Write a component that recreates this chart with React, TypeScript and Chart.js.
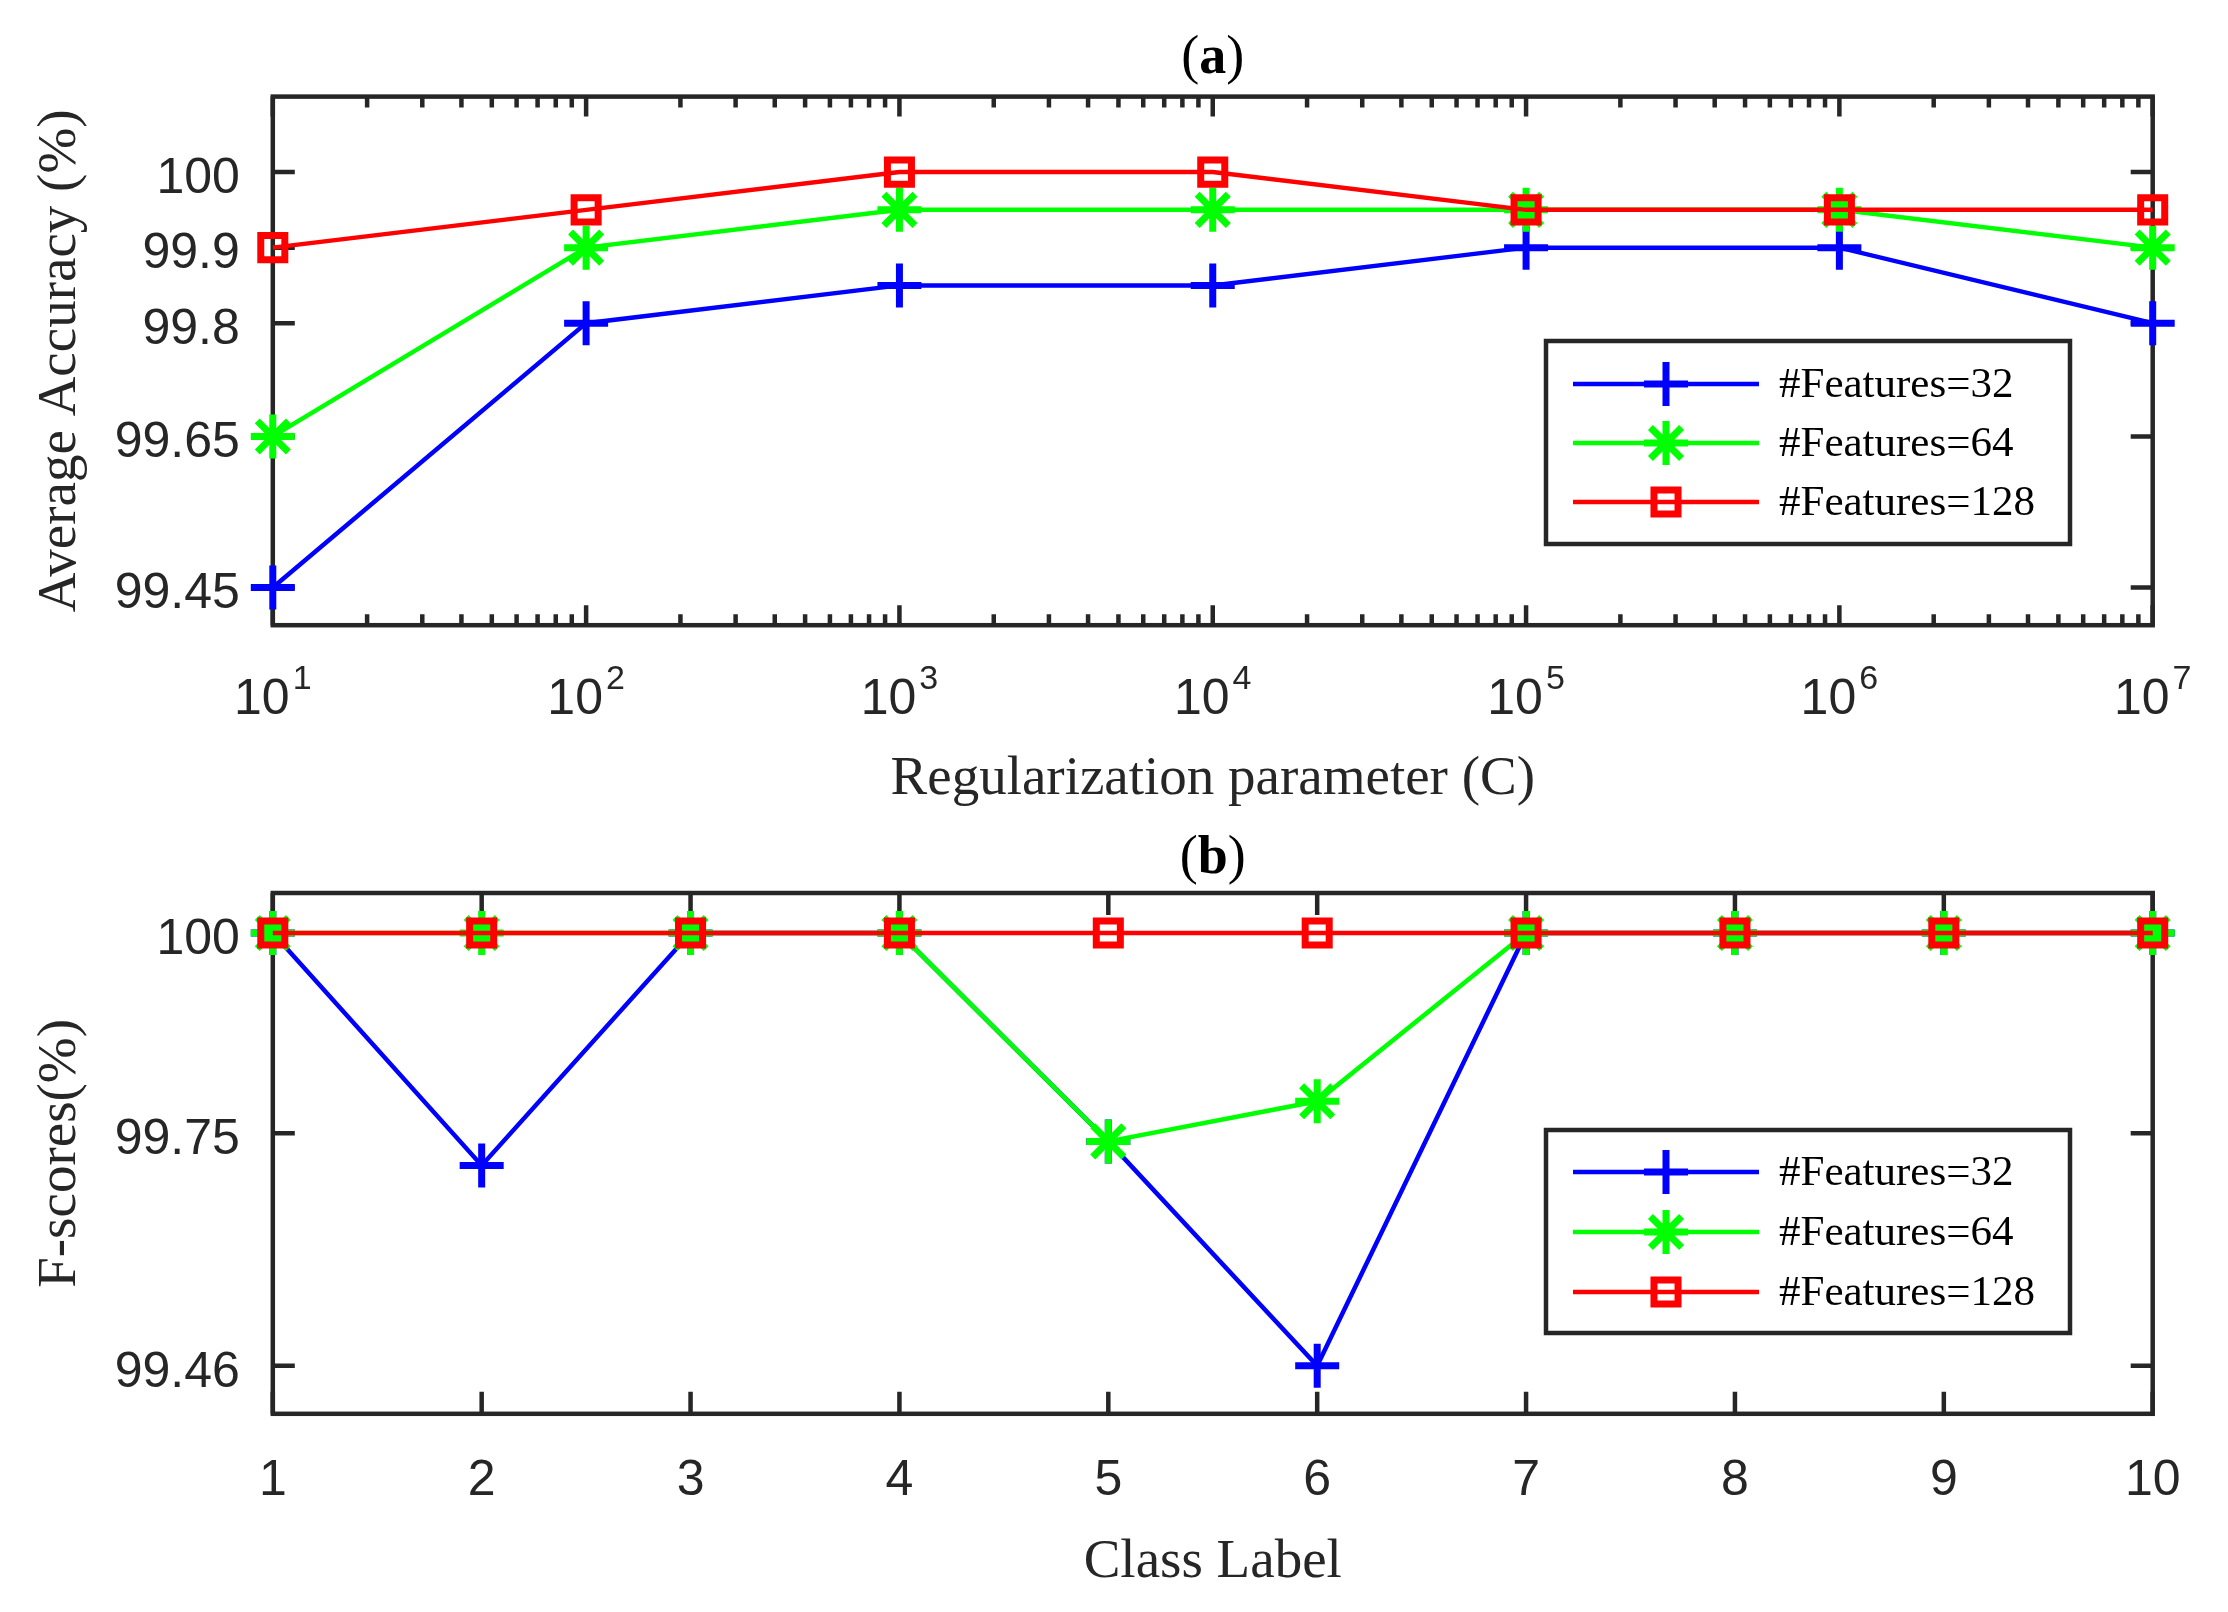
import React, { useEffect, useRef } from 'react';
import { Chart, registerables } from 'chart.js';

Chart.register(...registerables);

// ---------- data ----------
const regParams = [1e1, 1e2, 1e3, 1e4, 1e5, 1e6, 1e7];
const accF32 = [99.45, 99.8, 99.85, 99.85, 99.9, 99.9, 99.8];
const accF64 = [99.65, 99.9, 99.95, 99.95, 99.95, 99.95, 99.9];
const accF128 = [99.9, 99.95, 100, 100, 99.95, 99.95, 99.95];
const accYTicks = [99.45, 99.65, 99.8, 99.9, 100];

const classLabels = [1, 2, 3, 4, 5, 6, 7, 8, 9, 10];
const fF32 = [100, 99.71, 100, 100, 99.74, 99.46, 100, 100, 100, 100];
const fF64 = [100, 100, 100, 100, 99.74, 99.79, 100, 100, 100, 100];
const fF128 = [100, 100, 100, 100, 100, 100, 100, 100, 100, 100];
const fYTicks = [99.46, 99.75, 100];

const seriesNames = ['#Features=32', '#Features=64', '#Features=128'];
const seriesColors = ['#0000FF', '#00FF00', '#FF0000'];
const seriesMarkers = ['cross', 'star', 'rect'];
const markerRadius = [22, 22, 17];

// ---------- styling ----------
const SERIF = "'Liberation Serif', 'Times New Roman', serif";
const SANS = "'Liberation Sans', Arial, Helvetica, sans-serif";
const AX = '#262626';
const W = 2228;
const TOP_H = 830;
const BOT_TOP = 830;
const BOT_H = 1612 - 830;
const PLOT_LEFT = 272.8;
const PLOT_RIGHT_PAD = W - 2152.7;
const TICK_FONT = 50;
const TITLE_FONT = 55;
const LINE_W = 4.5;
const MARKER_W = 7;

function makeDatasets(xs: number[], series: number[][]) {
  return series.map((vals, i) => ({
    label: seriesNames[i],
    data: xs.map((x, j) => ({ x, y: vals[j] })),
    borderColor: seriesColors[i],
    backgroundColor: 'rgba(0,0,0,0)',
    borderWidth: LINE_W,
    pointStyle: seriesMarkers[i],
    pointRadius: markerRadius[i],
    pointHoverRadius: markerRadius[i],
    pointBorderWidth: MARKER_W,
    pointHoverBorderWidth: MARKER_W,
    pointBorderColor: seriesColors[i],
    pointBackgroundColor: 'rgba(0,0,0,0)',
    tension: 0,
    fill: false,
    clip: false,
    order: 3 - i,
  }));
}

function drawMarker(ctx: CanvasRenderingContext2D, style: string, x: number, y: number, r: number) {
  ctx.beginPath();
  if (style === 'cross' || style === 'star') {
    ctx.moveTo(x - r, y); ctx.lineTo(x + r, y);
    ctx.moveTo(x, y - r); ctx.lineTo(x, y + r);
  }
  if (style === 'star') {
    const d = r * Math.SQRT1_2;
    ctx.moveTo(x - d, y - d); ctx.lineTo(x + d, y + d);
    ctx.moveTo(x - d, y + d); ctx.lineTo(x + d, y - d);
  }
  if (style === 'rect') {
    const s = r * Math.SQRT1_2;
    ctx.rect(x - s, y - s, 2 * s, 2 * s);
  }
  ctx.stroke();
}

function isPow10(v: number) {
  const l = Math.log10(v);
  return Math.abs(l - Math.round(l)) < 1e-9;
}

function axesPlugin(opts: { logX: boolean; xMajorLen: number; xMinorLen: number; yLen: number; labelBaseline?: number }) {
  return {
    id: 'matlabAxes',
    beforeDatasetsDraw(chart: any) {
      const { ctx, chartArea } = chart;
      const { left, right, top, bottom } = chartArea;
      const xs = chart.scales.x;
      const ys = chart.scales.y;
      ctx.save();
      ctx.strokeStyle = AX;
      ctx.lineWidth = 4.5;
      ctx.lineCap = 'butt';
      ctx.beginPath();
      for (const t of xs.ticks) {
        const px = xs.getPixelForValue(t.value);
        const len = opts.logX ? (isPow10(t.value) ? opts.xMajorLen : opts.xMinorLen) : opts.xMajorLen;
        ctx.moveTo(px, bottom); ctx.lineTo(px, bottom - len);
        ctx.moveTo(px, top); ctx.lineTo(px, top + len);
      }
      for (const t of ys.ticks) {
        const py = ys.getPixelForValue(t.value);
        ctx.moveTo(left, py); ctx.lineTo(left + opts.yLen, py);
        ctx.moveTo(right, py); ctx.lineTo(right - opts.yLen, py);
      }
      ctx.stroke();
      ctx.strokeRect(left, top, right - left, bottom - top);
      if (opts.logX && opts.labelBaseline) {
        ctx.fillStyle = AX;
        ctx.textBaseline = 'alphabetic';
        ctx.textAlign = 'left';
        const base = `${TICK_FONT}px ${SANS}`;
        const sup = `34px ${SANS}`;
        for (const t of xs.ticks) {
          if (!isPow10(t.value)) continue;
          const px = xs.getPixelForValue(t.value);
          const e = String(Math.round(Math.log10(t.value)));
          ctx.font = base;
          const w1 = ctx.measureText('10').width;
          ctx.font = sup;
          const w2 = ctx.measureText(e).width;
          const gap = 3;
          const x0 = px - (w1 + gap + w2) / 2;
          ctx.font = base;
          ctx.fillText('10', x0, opts.labelBaseline);
          ctx.font = sup;
          ctx.fillText(e, x0 + w1 + gap, opts.labelBaseline - 25);
        }
      }
      ctx.restore();
    },
  };
}

function legendPlugin(box: { left: number; top: number; width: number; height: number; firstRow: number; rowGap: number }) {
  return {
    id: 'insideLegend',
    afterDatasetsDraw(chart: any) {
      const { ctx } = chart;
      ctx.save();
      ctx.fillStyle = '#FFFFFF';
      ctx.fillRect(box.left, box.top, box.width, box.height);
      ctx.strokeStyle = AX;
      ctx.lineWidth = 4.5;
      ctx.strokeRect(box.left, box.top, box.width, box.height);
      const lx1 = box.left + 27;
      const lx2 = box.left + 213;
      const mx = (lx1 + lx2) / 2;
      const tx = box.left + 233;
      chart.data.datasets.forEach((ds: any, i: number) => {
        const y = box.top + box.firstRow + i * box.rowGap;
        ctx.strokeStyle = ds.borderColor;
        ctx.lineWidth = ds.borderWidth;
        ctx.beginPath();
        ctx.moveTo(lx1, y); ctx.lineTo(lx2, y);
        ctx.stroke();
        ctx.lineWidth = ds.pointBorderWidth;
        drawMarker(ctx, ds.pointStyle, mx, y, ds.pointRadius);
        ctx.fillStyle = '#000000';
        ctx.font = `43px ${SERIF}`;
        ctx.textBaseline = 'middle';
        ctx.textAlign = 'left';
        ctx.fillText(ds.label, tx, y + 2);
      });
      ctx.restore();
    },
  };
}

function titlePlugin(letter: string, baseline: number) {
  return {
    id: 'panelTitle',
    afterDraw(chart: any) {
      const { ctx, chartArea } = chart;
      const cx = (chartArea.left + chartArea.right) / 2;
      const normal = `54px ${SERIF}`;
      const bold = `bold 54px ${SERIF}`;
      ctx.save();
      ctx.font = normal;
      const wp = ctx.measureText('(').width;
      const wc = ctx.measureText(')').width;
      ctx.font = bold;
      const wl = ctx.measureText(letter).width;
      let x = cx - (wp + wl + wc) / 2;
      ctx.fillStyle = '#000000';
      ctx.textBaseline = 'alphabetic';
      ctx.textAlign = 'left';
      ctx.font = normal; ctx.fillText('(', x, baseline); x += wp;
      ctx.font = bold; ctx.fillText(letter, x, baseline); x += wl;
      ctx.font = normal; ctx.fillText(')', x, baseline);
      ctx.restore();
    },
  };
}

function yScale(min: number, max: number, tickVals: number[], title: string) {
  return {
    type: 'linear',
    min,
    max,
    afterBuildTicks: (s: any) => { s.ticks = tickVals.map((v) => ({ value: v })); },
    afterFit: (s: any) => { s.width = PLOT_LEFT; },
    grid: { display: false, drawTicks: false },
    border: { display: false },
    ticks: {
      font: { family: SANS, size: TICK_FONT },
      color: AX,
      padding: 33,
      labelOffset: 7,
      autoSkip: false,
      callback: (v: any) => String(v),
    },
    title: {
      display: true,
      text: title,
      font: { family: SERIF, size: TITLE_FONT },
      color: AX,
      padding: { top: 28, bottom: 0 },
    },
  };
}

function topConfig(): any {
  return {
    type: 'line',
    data: { datasets: makeDatasets(regParams, [accF32, accF64, accF128]) },
    options: {
      animation: false,
      responsive: false,
      devicePixelRatio: 1,
      events: [],
      layout: { padding: { left: 0, right: PLOT_RIGHT_PAD, top: 96.6, bottom: 17.8 } },
      plugins: { legend: { display: false }, tooltip: { enabled: false }, title: { display: false } },
      scales: {
        x: {
          type: 'logarithmic',
          min: regParams[0],
          max: regParams[regParams.length - 1],
          afterBuildTicks: (s: any) => {
            const t: any[] = [];
            const lo = Math.round(Math.log10(regParams[0]));
            const hi = Math.round(Math.log10(regParams[regParams.length - 1]));
            for (let e = lo; e < hi; e++) {
              for (let m = 1; m <= 9; m++) t.push({ value: m * Math.pow(10, e) });
            }
            t.push({ value: Math.pow(10, hi) });
            s.ticks = t;
          },
          afterFit: (s: any) => { s.height = 187; },
          grid: { display: false, drawTicks: false },
          border: { display: false },
          ticks: { display: false },
          title: {
            display: true,
            text: 'Regularization parameter (C)',
            font: { family: SERIF, size: TITLE_FONT },
            color: AX,
            padding: { top: 0, bottom: 0 },
          },
        },
        y: yScale(99.4, 100.1, accYTicks, 'Average Accuracy (%)'),
      },
    },
    plugins: [
      axesPlugin({ logX: true, xMajorLen: 20, xMinorLen: 11, yLen: 22, labelBaseline: 714 }),
      legendPlugin({ left: 1546, top: 341, width: 524, height: 203, firstRow: 43, rowGap: 59 }),
      titlePlugin('a', 73),
    ],
  };
}

function bottomConfig(): any {
  return {
    type: 'line',
    data: { datasets: makeDatasets(classLabels, [fF32, fF64, fF128]) },
    options: {
      animation: false,
      responsive: false,
      devicePixelRatio: 1,
      events: [],
      layout: { padding: { left: 0, right: PLOT_RIGHT_PAD, top: 59.5, bottom: 16.3 } },
      plugins: { legend: { display: false }, tooltip: { enabled: false }, title: { display: false } },
      scales: {
        x: {
          type: 'linear',
          min: classLabels[0],
          max: classLabels[classLabels.length - 1],
          afterBuildTicks: (s: any) => { s.ticks = classLabels.map((v) => ({ value: v })); },
          afterFit: (s: any) => { s.height = 181.9; },
          grid: { display: false, drawTicks: false },
          border: { display: false },
          ticks: {
            font: { family: SANS, size: TICK_FONT },
            color: AX,
            padding: 37,
            autoSkip: false,
            maxRotation: 0,
            callback: (v: any) => String(v),
          },
          title: {
            display: true,
            text: 'Class Label',
            font: { family: SERIF, size: TITLE_FONT },
            color: AX,
            padding: { top: 0, bottom: 0 },
          },
        },
        y: yScale(99.4, 100.05, fYTicks, 'F-scores(%)'),
      },
    },
    plugins: [
      axesPlugin({ logX: false, xMajorLen: 22, xMinorLen: 22, yLen: 22 }),
      legendPlugin({ left: 1546, top: 1130 - BOT_TOP, width: 524, height: 203, firstRow: 42, rowGap: 60 }),
      titlePlugin('b', 873 - BOT_TOP),
    ],
  };
}

function ChartCanvas({ makeConfig, top, height }: { makeConfig: () => any; top: number; height: number }) {
  const ref = useRef<HTMLCanvasElement | null>(null);
  useEffect(() => {
    if (!ref.current) return;
    const chart = new Chart(ref.current, makeConfig());
    return () => chart.destroy();
  }, []);
  return (
    <canvas
      ref={ref}
      width={W}
      height={height}
      style={{ position: 'absolute', left: 0, top, width: W, height, display: 'block' }}
    />
  );
}

export default function App() {
  return (
    <div style={{ position: 'absolute', left: 0, top: 0, width: W, height: 1612, background: '#FFFFFF', overflow: 'hidden' }}>
      <ChartCanvas makeConfig={topConfig} top={0} height={TOP_H} />
      <ChartCanvas makeConfig={bottomConfig} top={BOT_TOP} height={BOT_H} />
    </div>
  );
}
